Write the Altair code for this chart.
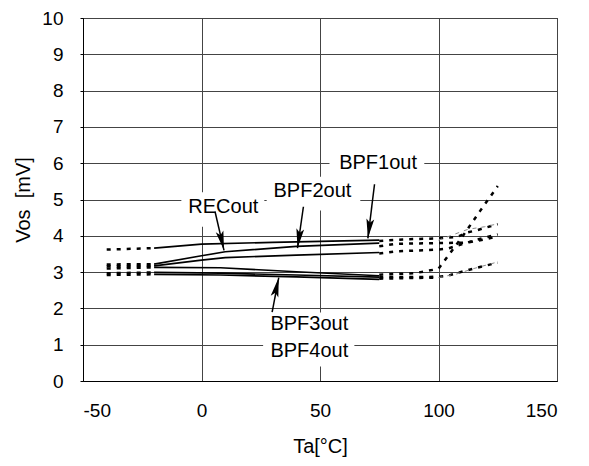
import altair as alt
import pandas as pd

# ---- data ----
A_left_x = [-40, -20]; A_left_y = [3.62, 3.66]
A_solid_x = [-20, 0, 30, 75]; A_solid_y = [3.66, 3.77, 3.82, 3.88]
A_right_x = [75, 85, 100, 108, 112, 116, 125]; A_right_y = [3.86, 3.90, 3.93, 3.97, 4.09, 4.15, 4.32]

B_left_x = [-40, -20]; B_left_y = [3.21, 3.22]
B_solid_x = [-20, 0, 10, 40, 75]; B_solid_y = [3.22, 3.45, 3.56, 3.71, 3.80]
B_right_x = [75, 82, 100, 112, 120, 125]; B_right_y = [3.71, 3.78, 3.80, 3.81, 3.91, 3.98]

C_left_x = [-40, -20]; C_left_y = [3.16, 3.17]
C_solid_x = [-20, 0, 10, 40, 75]; C_solid_y = [3.17, 3.33, 3.40, 3.47, 3.54]
C_right_x = [75, 82, 100, 104, 115, 125]; C_right_y = [3.51, 3.57, 3.62, 3.65, 3.87, 4.04]

D_left_x = [-40, -20]; D_left_y = [3.10, 3.13]
D_solid_x = [-20, 8, 40, 75]; D_solid_y = [3.13, 3.12, 3.01, 2.90]
D_right_x = [75, 90, 100, 110, 117.5, 125]; D_right_y = [2.93, 2.97, 3.09, 3.97, 4.68, 5.37]

E_left_x = [-40, -20]; E_left_y = [2.97, 2.99]
E_solid_x = [-20, 8, 40, 75]; E_solid_y = [2.99, 2.97, 2.92, 2.86]
E_right_x = [75, 100, 104, 112, 120, 125]; E_right_y = [2.86, 2.87, 2.90, 3.05, 3.18, 3.26]

F_left_x = [-40, -20]; F_left_y = [2.92, 2.94]
F_solid_x = [-20, 8, 40, 75]; F_solid_y = [2.94, 2.92, 2.87, 2.80]
F_right_x = [75, 100]; F_right_y = [2.82, 2.85]

T1_x = [100, 107, 112.5, 119.5, 125]; T1_y = [3.88, 4.05, 4.18, 4.25, 4.33]
T2_x = [100, 107.7, 115, 125]; T2_y = [2.85, 2.95, 3.10, 3.28]

label_text = ["RECout", "BPF2out", "BPF1out", "BPF3out", "BPF4out"]
label_x = [9.2, 46.8, 74.5, 45.5, 45.5]
label_y = [4.80, 5.24, 6.00, 1.56, 0.84]

box_x = [-8.5, 27.5, 54, 26]
box_x2 = [26.5, 67, 94, 64.5]
box_y = [4.25, 4.70, 5.60, 0.40]
box_y2 = [5.20, 5.63, 6.37, 1.89]

arrow_x = [5.7, 43, 73, 29.8]
arrow_y = [4.67, 4.80, 5.42, 1.90]
arrow_x2 = [9.5, 40.5, 70.2, 32.6]
arrow_y2 = [3.60, 3.66, 3.93, 2.85]
arrow_angle = [166.8, 188.2, 187.2, 12.6]

x_ticks = [-50, 0, 50, 100, 150]
y_ticks = list(range(0, 11))

# ---- build tables ----
rows = []
def add(name, seg, xs, ys):
    for i, (xv, yv) in enumerate(zip(xs, ys)):
        rows.append(dict(key=f"{name}_{seg}", seg=seg, x=xv, y=yv, o=i))

for n, L, S, R in [
    ("A", (A_left_x, A_left_y), (A_solid_x, A_solid_y), (A_right_x, A_right_y)),
    ("B", (B_left_x, B_left_y), (B_solid_x, B_solid_y), (B_right_x, B_right_y)),
    ("C", (C_left_x, C_left_y), (C_solid_x, C_solid_y), (C_right_x, C_right_y)),
    ("D", (D_left_x, D_left_y), (D_solid_x, D_solid_y), (D_right_x, D_right_y)),
    ("E", (E_left_x, E_left_y), (E_solid_x, E_solid_y), (E_right_x, E_right_y)),
    ("F", (F_left_x, F_left_y), (F_solid_x, F_solid_y), (F_right_x, F_right_y)),
]:
    add(n, "dotL", *L)
    add(n, "solid", *S)
    add(n, "dotR", *R)
add("T1", "thin", T1_x, T1_y)
add("T2", "thin", T2_x, T2_y)
lines = pd.DataFrame(rows)

labels = pd.DataFrame(dict(t=label_text, x=label_x, y=label_y))
boxes = pd.DataFrame(dict(x=box_x, x2=box_x2, y=box_y, y2=box_y2))
arrows = pd.DataFrame(dict(x=arrow_x, y=arrow_y, x2=arrow_x2, y2=arrow_y2, a=arrow_angle))

FONT = "Liberation Sans"
xs = alt.Scale(domain=[-50, 150], nice=False, zero=False)
ys = alt.Scale(domain=[0, 10], nice=False, zero=True)

xaxis = alt.Axis(values=x_ticks, title="Ta[°C]", grid=True, ticks=False,
                 labelPadding=20, titlePadding=16, labelExpr="'' + datum.value")
yaxis = alt.Axis(values=y_ticks, title="Vos\u00a0 [mV]", grid=True, tickSize=3,
                 labelPadding=17, titlePadding=8, labelExpr="'' + datum.value")

base_x = alt.X("x:Q", scale=xs, axis=xaxis)
base_y = alt.Y("y:Q", scale=ys, axis=yaxis)

box_layer = alt.Chart(boxes).mark_rect(color="white").encode(
    x=base_x, x2="x2:Q", y=base_y, y2="y2:Q")

solid = alt.Chart(lines).transform_filter("datum.seg == 'solid'").mark_line(
    color="black", strokeWidth=1.7).encode(x=base_x, y=base_y, detail="key:N", order="o:Q")

dotted = alt.Chart(lines).transform_filter("datum.seg == 'dotL' || datum.seg == 'dotR'").mark_line(
    color="black", strokeWidth=2.5, strokeDash=[4, 6]).encode(
    x=base_x, y=base_y, detail="key:N", order="o:Q")

thin = alt.Chart(lines).transform_filter("datum.seg == 'thin'").mark_line(
    color="#888888", strokeWidth=1, strokeDash=[4, 5]).encode(
    x=base_x, y=base_y, detail="key:N", order="o:Q")

shafts = alt.Chart(arrows).mark_rule(color="black", strokeWidth=1.5).encode(
    x=base_x, y=base_y, x2="x2:Q", y2="y2:Q")

heads = alt.Chart(arrows).mark_point(
    shape="M0,0L-0.4,2L0,1.6L0.4,2Z", filled=True, color="black", opacity=1, size=380,
    strokeWidth=0).encode(
    x=alt.X("x2:Q", scale=xs, axis=xaxis), y=alt.Y("y2:Q", scale=ys, axis=yaxis),
    angle=alt.Angle("a:Q", scale=None))

text = alt.Chart(labels).mark_text(font=FONT, fontSize=20, color="black",
                                   align="center", baseline="middle").encode(
    x=base_x, y=base_y, text="t:N")

chart = alt.layer(box_layer, solid, dotted, thin, shafts, heads, text).properties(
    width=474, height=363,
    padding={"left": 75, "top": 10, "right": 20, "bottom": 77},
    autosize=alt.AutoSizeParams(type="none"),
).configure_view(stroke="black", strokeWidth=1).configure_axis(
    labelFont=FONT, titleFont=FONT, labelFontSize=19, titleFontSize=20,
    titleFontWeight="normal", labelColor="black", titleColor="black",
    domainColor="black", tickColor="black", gridColor="#444444", gridWidth=1,
    gridOpacity=1,
)

chart.save("out.html", embed_options={"renderer": "svg", "actions": False})
